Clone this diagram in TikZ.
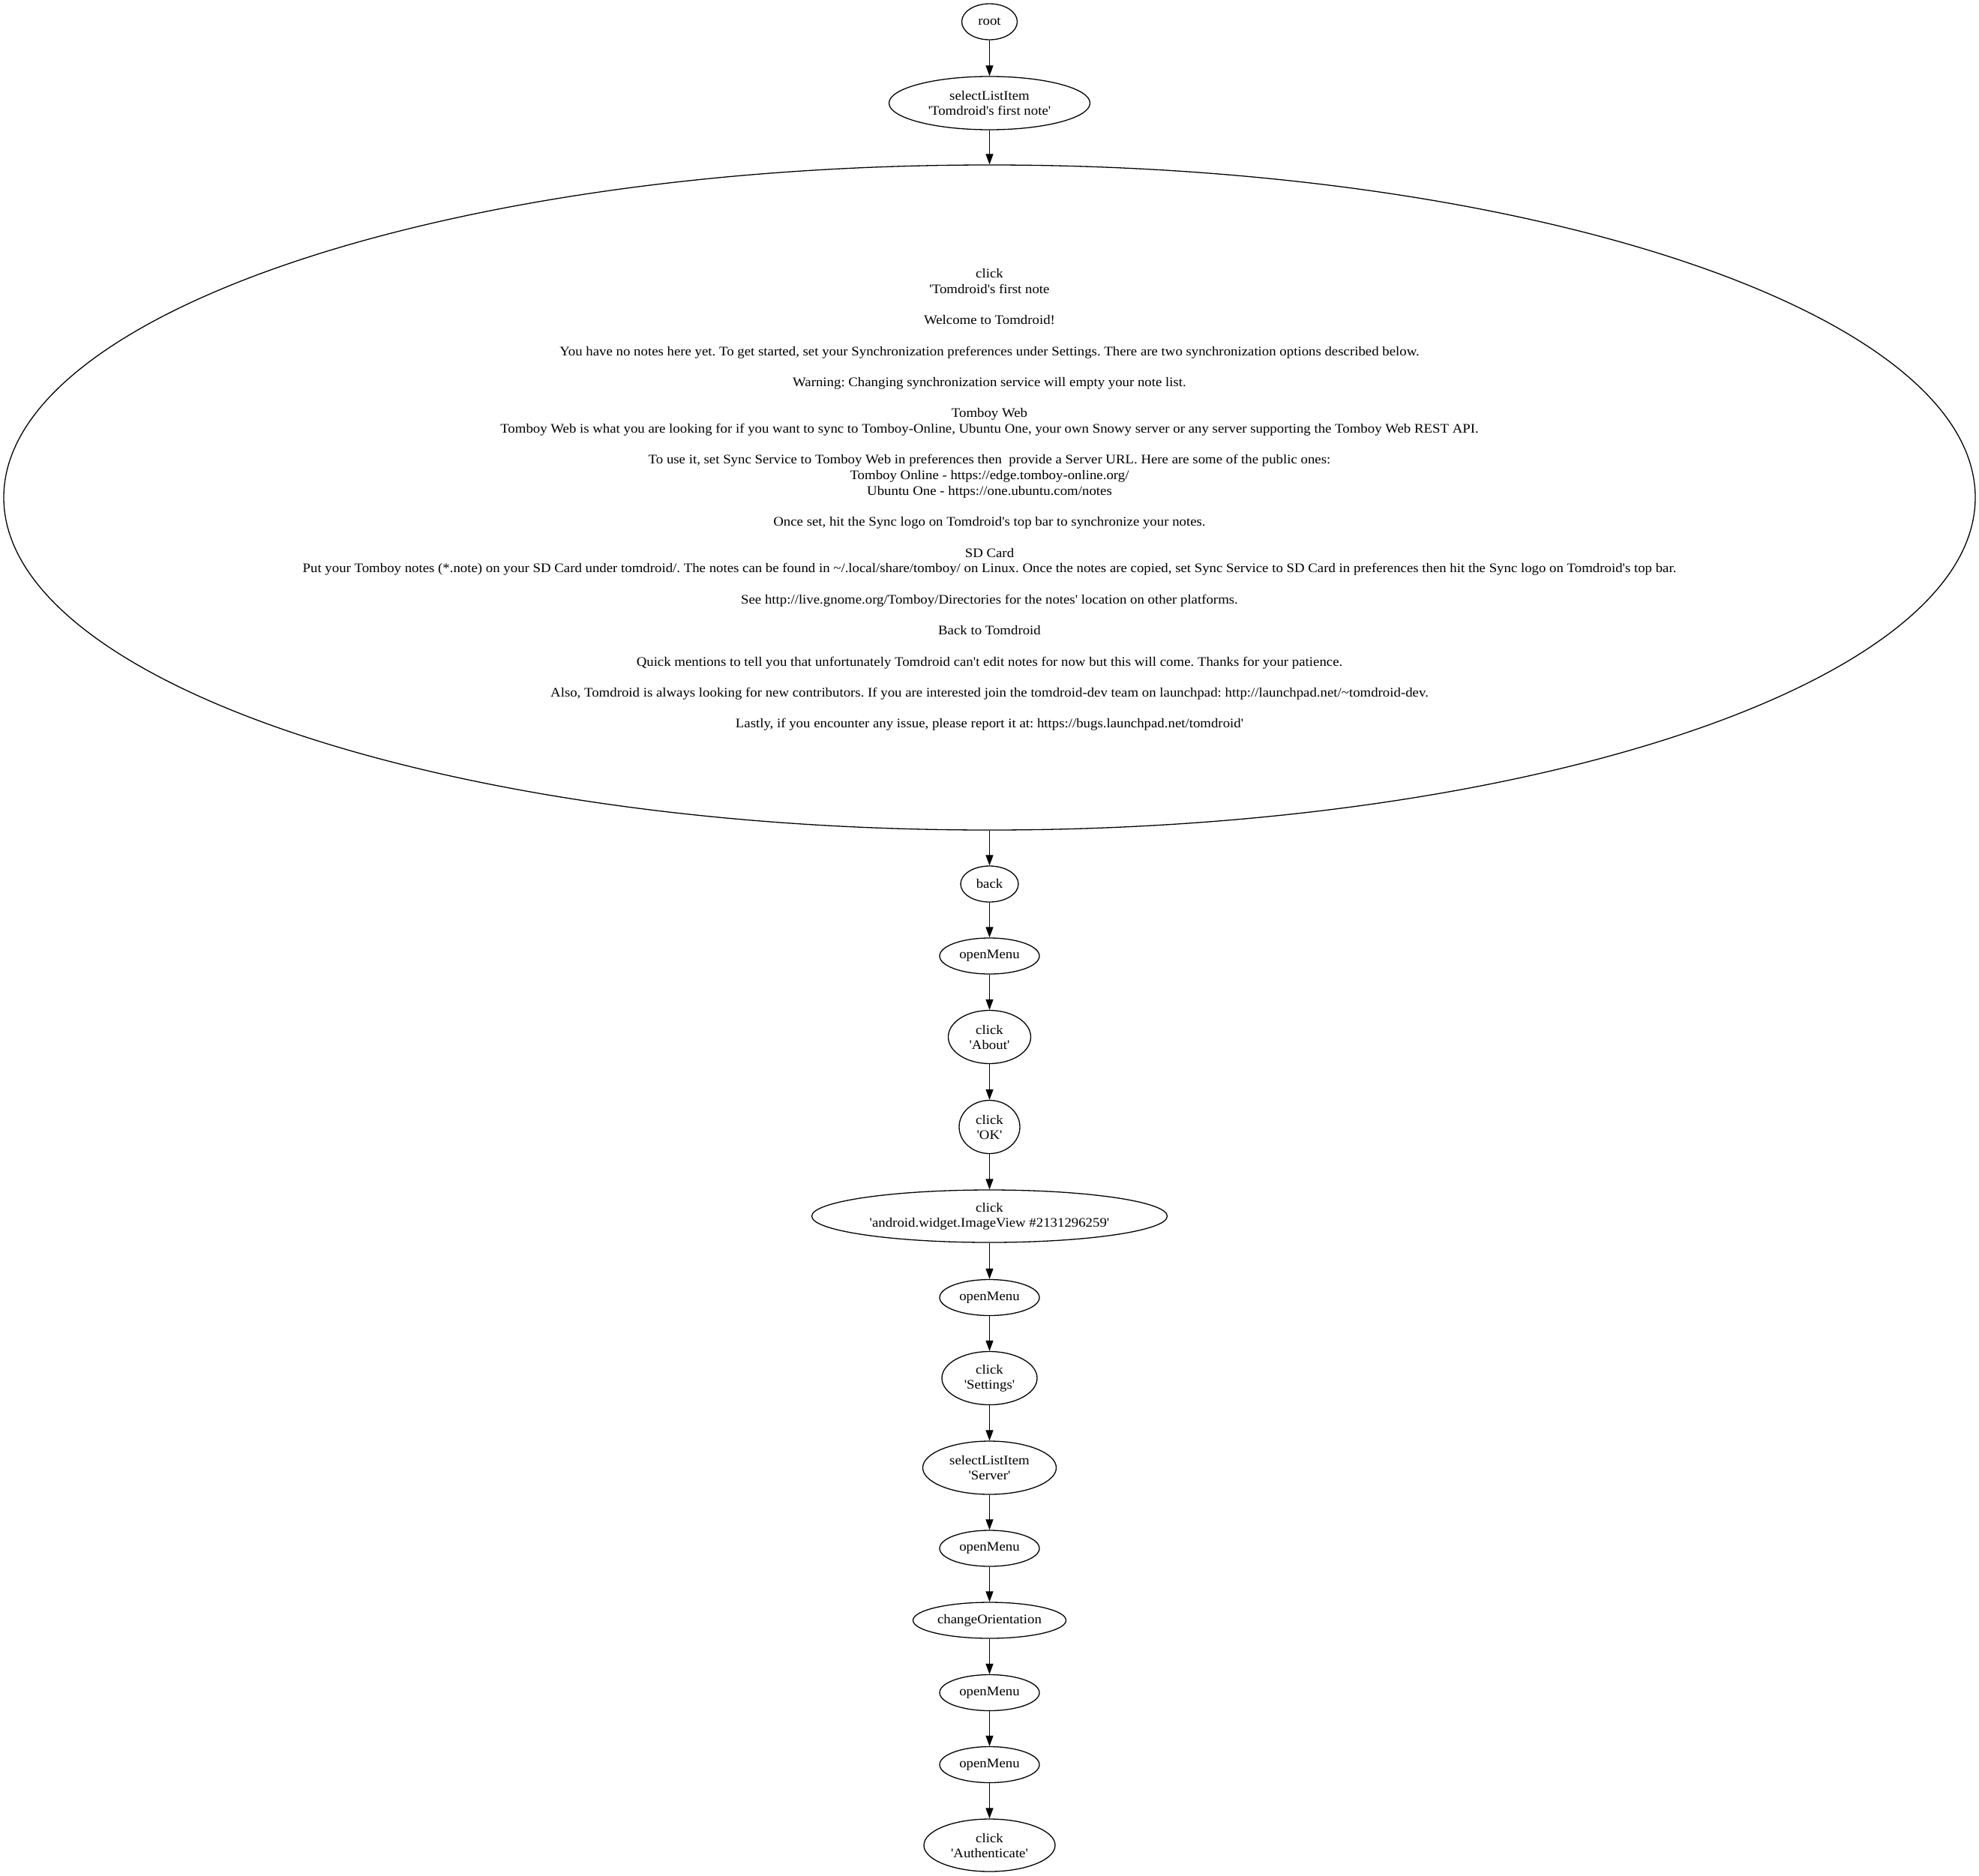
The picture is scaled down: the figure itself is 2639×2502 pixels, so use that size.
\documentclass[tikz,border=0pt]{standalone}
\usepackage{fontspec}
\newfontfamily\gvfont[Ligatures=TeXOff,FakeStretch=1.075]{Liberation Serif}
\usetikzlibrary{shapes.geometric,arrows.meta}
\frenchspacing
\tikzset{
  nd/.style={ellipse, draw, line width=1.3pt, inner sep=0pt, align=center,
    font={\gvfont\fontsize{17.5}{20}\selectfont\frenchspacing}},
  bigtext/.style={inner sep=0pt, align=center,
    font={\gvfont\fontsize{17.5}{20.7}\selectfont\frenchspacing}},
  edge/.style={line width=1.3pt, -{Triangle[length=14pt,width=10pt]}}
}
\begin{document}
\begin{tikzpicture}[x=1pt,y=-1pt]
\useasboundingbox[fill=white] (0,0) rectangle (2639,2502);
\node[nd, minimum width=74pt, minimum height=48pt] (root) at (1319.5,29) {root};
\node[nd, minimum width=268pt, minimum height=71pt] (sel1) at (1319.5,137.5) {selectListItem\\'Tomdroid's first note'};
\node[nd, minimum width=2629pt, minimum height=887pt] (big) at (1319.5,663.5) {};
\node[bigtext] (bigt) at ([yshift=-3pt]big.center) {click\\
'Tomdroid's first note\\[20.7pt]
Welcome to Tomdroid!\\[20.7pt]
You have no notes here yet. To get started, set your Synchronization preferences under Settings. There are two synchronization options described below.\\[20.7pt]
Warning: Changing synchronization service will empty your note list.\\[20.7pt]
Tomboy Web\\
Tomboy Web is what you are looking for if you want to sync to Tomboy-Online, Ubuntu One, your own Snowy server or any server supporting the Tomboy Web REST API.\\[20.7pt]
To use it, set Sync Service to Tomboy Web in preferences then\ \ provide a Server URL. Here are some of the public ones:\\
Tomboy Online - https://edge.tomboy-online.org/\\
Ubuntu One - https://one.ubuntu.com/notes\\[20.7pt]
Once set, hit the Sync logo on Tomdroid's top bar to synchronize your notes.\\[20.7pt]
SD Card\\
Put your Tomboy notes (*.note) on your SD Card under tomdroid/. The notes can be found in \textasciitilde/.local/share/tomboy/ on Linux. Once the notes are copied, set Sync Service to SD Card in preferences then hit the Sync logo on Tomdroid's top bar.\\[20.7pt]
See http://live.gnome.org/Tomboy/Directories for the notes' location on other platforms.\\[20.7pt]
Back to Tomdroid\\[20.7pt]
Quick mentions to tell you that unfortunately Tomdroid can't edit notes for now but this will come. Thanks for your patience.\\[20.7pt]
Also, Tomdroid is always looking for new contributors. If you are interested join the tomdroid-dev team on launchpad: http://launchpad.net/\textasciitilde tomdroid-dev.\\[20.7pt]
Lastly, if you encounter any issue, please report it at: https://bugs.launchpad.net/tomdroid'};
\node[nd, minimum width=77pt, minimum height=48pt] (back) at (1319.5,1179) {back};
\node[nd, minimum width=133pt, minimum height=48pt] (om1) at (1319.5,1275) {openMenu};
\node[nd, minimum width=110pt, minimum height=71pt] (about) at (1319.5,1383) {click\\'About'};
\node[nd, minimum width=81pt, minimum height=71pt] (ok) at (1319.5,1503) {click\\'OK'};
\node[nd, minimum width=474pt, minimum height=70pt] (img) at (1319.5,1622) {click\\'android.widget.ImageView \#2131296259'};
\node[nd, minimum width=133pt, minimum height=48pt] (om2) at (1319.5,1730.5) {openMenu};
\node[nd, minimum width=127pt, minimum height=71pt] (sett) at (1319.5,1838) {click\\'Settings'};
\node[nd, minimum width=178pt, minimum height=71pt] (serv) at (1319.5,1957.5) {selectListItem\\'Server'};
\node[nd, minimum width=133pt, minimum height=48pt] (om3) at (1319.5,2065) {openMenu};
\node[nd, minimum width=204pt, minimum height=48pt] (chg) at (1319.5,2161) {changeOrientation};
\node[nd, minimum width=133pt, minimum height=48pt] (om4) at (1319.5,2257.5) {openMenu};
\node[nd, minimum width=133pt, minimum height=48pt] (om5) at (1319.5,2353.5) {openMenu};
\node[nd, minimum width=175pt, minimum height=70pt] (auth) at (1319.5,2461) {click\\'Authenticate'};
\draw[edge] (root) -- (sel1);
\draw[edge] (sel1) -- (big);
\draw[edge] (big) -- (back);
\draw[edge] (back) -- (om1);
\draw[edge] (om1) -- (about);
\draw[edge] (about) -- (ok);
\draw[edge] (ok) -- (img);
\draw[edge] (img) -- (om2);
\draw[edge] (om2) -- (sett);
\draw[edge] (sett) -- (serv);
\draw[edge] (serv) -- (om3);
\draw[edge] (om3) -- (chg);
\draw[edge] (chg) -- (om4);
\draw[edge] (om4) -- (om5);
\draw[edge] (om5) -- (auth);
\end{tikzpicture}
\end{document}
